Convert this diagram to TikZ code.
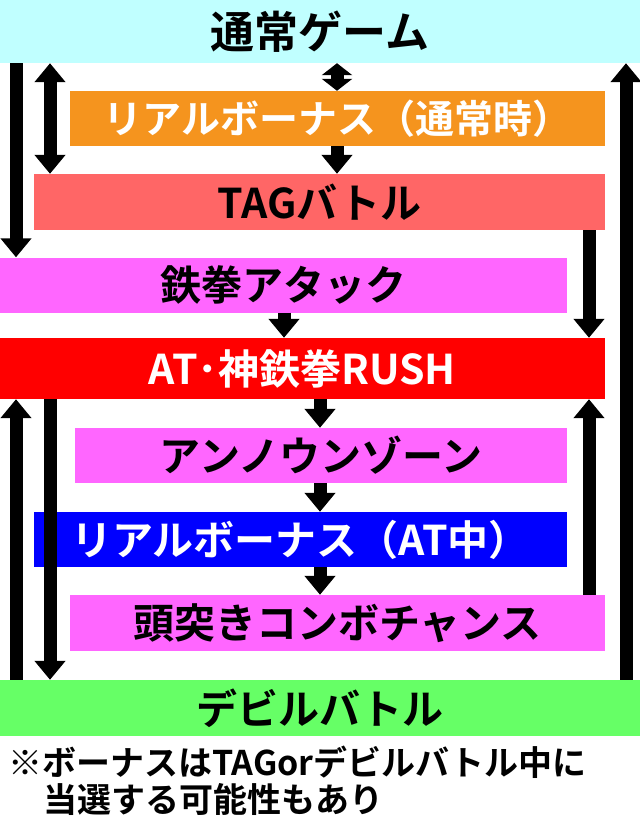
\documentclass[tikz,border=0pt]{standalone}
\usepackage{fontspec}
\newfontfamily\jpfont{Noto Sans CJK JP Bold}
\usetikzlibrary{arrows.meta}
\definecolor{gamecol}{HTML}{C0FFFF}
\definecolor{bonuscol}{HTML}{F5941E}
\definecolor{tagcol}{HTML}{FF6666}
\definecolor{pinkcol}{HTML}{FF66FF}
\definecolor{rushcol}{HTML}{FF0000}
\definecolor{atbcol}{HTML}{0000FF}
\definecolor{devilcol}{HTML}{66FF66}

\begin{document}
\begin{tikzpicture}[x=1pt,y=-1pt,
  box/.style={rectangle,inner sep=0pt,font=\jpfont\fontsize{41}{41}\selectfont},
  arr/.style={line width=13pt,-{Triangle[width=30pt,length=19pt]}},
  darr/.style={line width=13pt,{Triangle[width=30pt,length=19pt]}-{Triangle[width=30pt,length=19pt]}},
  sarr/.style={line width=13pt,{Triangle[width=30pt,length=12pt]}-{Triangle[width=30pt,length=12pt]}}]
  \useasboundingbox[fill=white] (0,0) rectangle (640,823);

  \node[box,fill=gamecol,minimum width=640pt,minimum height=63pt,font=\jpfont\fontsize{44}{44}\selectfont] (game) at (320,31.5) {通常ゲーム};
  \node[box,fill=bonuscol,text=white,minimum width=535pt,minimum height=55pt,font=\jpfont\fontsize{39}{39}\selectfont] (bonus) at (337.5,118.5) {リアルボーナス（通常時）};
  \node[box,fill=tagcol,minimum width=571pt,minimum height=56pt] (tag) at (319.5,202) {TAGバトル};
  \node[box,fill=pinkcol,minimum width=567pt,minimum height=55pt] (atk) at (283.5,285) {鉄拳アタック};
  \node[box,fill=rushcol,text=white,minimum width=605pt,minimum height=61pt] (rush) at (302.5,368.5) {AT･神鉄拳RUSH};
  \node[box,fill=pinkcol,minimum width=492pt,minimum height=55pt] (unknown) at (321,455.5) {アンノウンゾーン};
  \node[box,fill=atbcol,text=white,minimum width=533pt,minimum height=55pt] (atbonus) at (300.5,539.5) {リアルボーナス（AT中）};
  \node[box,fill=pinkcol,minimum width=535pt,minimum height=56pt] (combo) at (337.5,623) {頭突きコンボチャンス};
  \node[box,fill=devilcol,minimum width=640pt,minimum height=56pt] (devil) at (320,708) {デビルバトル};

  \node[box,anchor=west,font=\jpfont\fontsize{34}{34}\selectfont] (note1) at (8,762) {※ボーナスはTAGorデビルバトル中に};
  \node[box,anchor=west,font=\jpfont\fontsize{34}{34}\selectfont] (note2) at (43,799) {当選する可能性もあり};

  \coordinate (c1) at (16,0);
  \coordinate (c2) at (50,0);
  \coordinate (c3) at (284,0);
  \coordinate (c4) at (320,0);
  \coordinate (c5) at (337,0);
  \coordinate (c6) at (589,0);
  \coordinate (c7) at (626,0);

  \draw[arr](game.south -| c1)--(atk.north -| c1);
  \draw[darr](game.south -| c2)--(tag.north -| c2);
  \draw[sarr](game.south -| c5)--(bonus.north -| c5);
  \draw[arr](bonus.south -| c5)--(tag.north -| c5);
  \draw[arr](tag.south -| c6)--(rush.north -| c6);
  \draw[arr](devil.north -| c7)--(game.south -| c7);
  \draw[arr](atk.south -| c3)--(rush.north -| c3);
  \draw[arr](devil.north -| c1)--(rush.south -| c1);
  \draw[arr](rush.south -| c2)--(devil.north -| c2);
  \draw[arr](rush.south -| c4)--(unknown.north -| c4);
  \draw[arr](unknown.south -| c4)--(atbonus.north -| c4);
  \draw[arr](atbonus.south -| c4)--(combo.north -| c4);
  \draw[arr](combo.north -| c6)--(rush.south -| c6);
\end{tikzpicture}
\end{document}
